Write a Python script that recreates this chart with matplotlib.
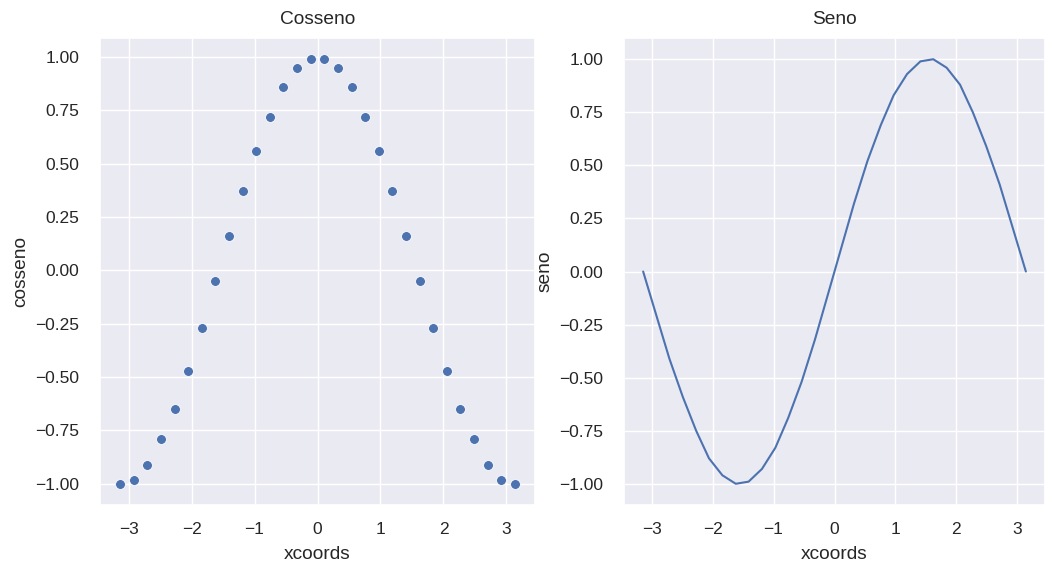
import matplotlib
matplotlib.use('Agg')
import matplotlib.pyplot as plt
import seaborn as sns

# valores
xcoords = [-3.14, -2.92, -2.71, -2.49, -2.27, -2.06, -1.84, -1.62, -1.41, -1.19,
           -0.97, -0.76, -0.54, -0.32, -0.11, 0.11, 0.32, 0.54, 0.76, 0.97,
           1.19, 1.41, 1.62, 1.84, 2.06, 2.27, 2.49, 2.71, 2.92, 3.14]
cosseno = [-1.00, -0.98, -0.91, -0.79, -0.65, -0.47, -0.27, -0.05, 0.16, 0.37,
           0.56, 0.72, 0.86, 0.95, 0.99, 0.99, 0.95, 0.86, 0.72, 0.56,
           0.37, 0.16, -0.05, -0.27, -0.47, -0.65, -0.79, -0.91, -0.98, -1.00]
seno = [0.00, -0.21, -0.41, -0.59, -0.75, -0.88, -0.96, -1.00, -0.99, -0.93,
        -0.83, -0.69, -0.52, -0.32, -0.11, 0.11, 0.32, 0.52, 0.69, 0.83,
        0.93, 0.99, 1.00, 0.96, 0.88, 0.75, 0.59, 0.41, 0.21, 0.00]

sns.set_theme(style='darkgrid')
plt.rcParams['font.family'] = ['Liberation Sans', 'DejaVu Sans']
plt.rcParams['xtick.labelsize'] = 12.5
plt.rcParams['ytick.labelsize'] = 12.5
plt.rcParams['axes.labelsize'] = 13.8
plt.rcParams['axes.titlesize'] = 13.8
plt.rcParams['xtick.major.pad'] = 6.5
plt.rcParams['ytick.major.pad'] = 9

W, H = 1046, 563
fig = plt.figure(figsize=(W / 100, H / 100), dpi=100)
ax1 = fig.add_axes([100 / W, 58 / H, 435 / W, 467 / H])
ax2 = fig.add_axes([624 / W, 58 / H, 421 / W, 467 / H])

# cosseno : scatter
sns.scatterplot(x=xcoords, y=cosseno, ax=ax1, s=50, color='#4C72B0')
ax1.set_title('Cosseno', pad=10)
ax1.set_xlabel('xcoords', labelpad=6)
ax1.set_ylabel('cosseno', labelpad=4)

# seno : linha
sns.lineplot(x=xcoords, y=seno, ax=ax2, color='#4C72B0')
ax2.set_title('Seno', pad=10)
ax2.set_xlabel('xcoords', labelpad=6)
ax2.set_ylabel('seno', labelpad=4)

for ax in (ax1, ax2):
    ax.set_yticks([-1.0, -0.75, -0.5, -0.25, 0.0, 0.25, 0.5, 0.75, 1.0])

plt.savefig('out.png')
